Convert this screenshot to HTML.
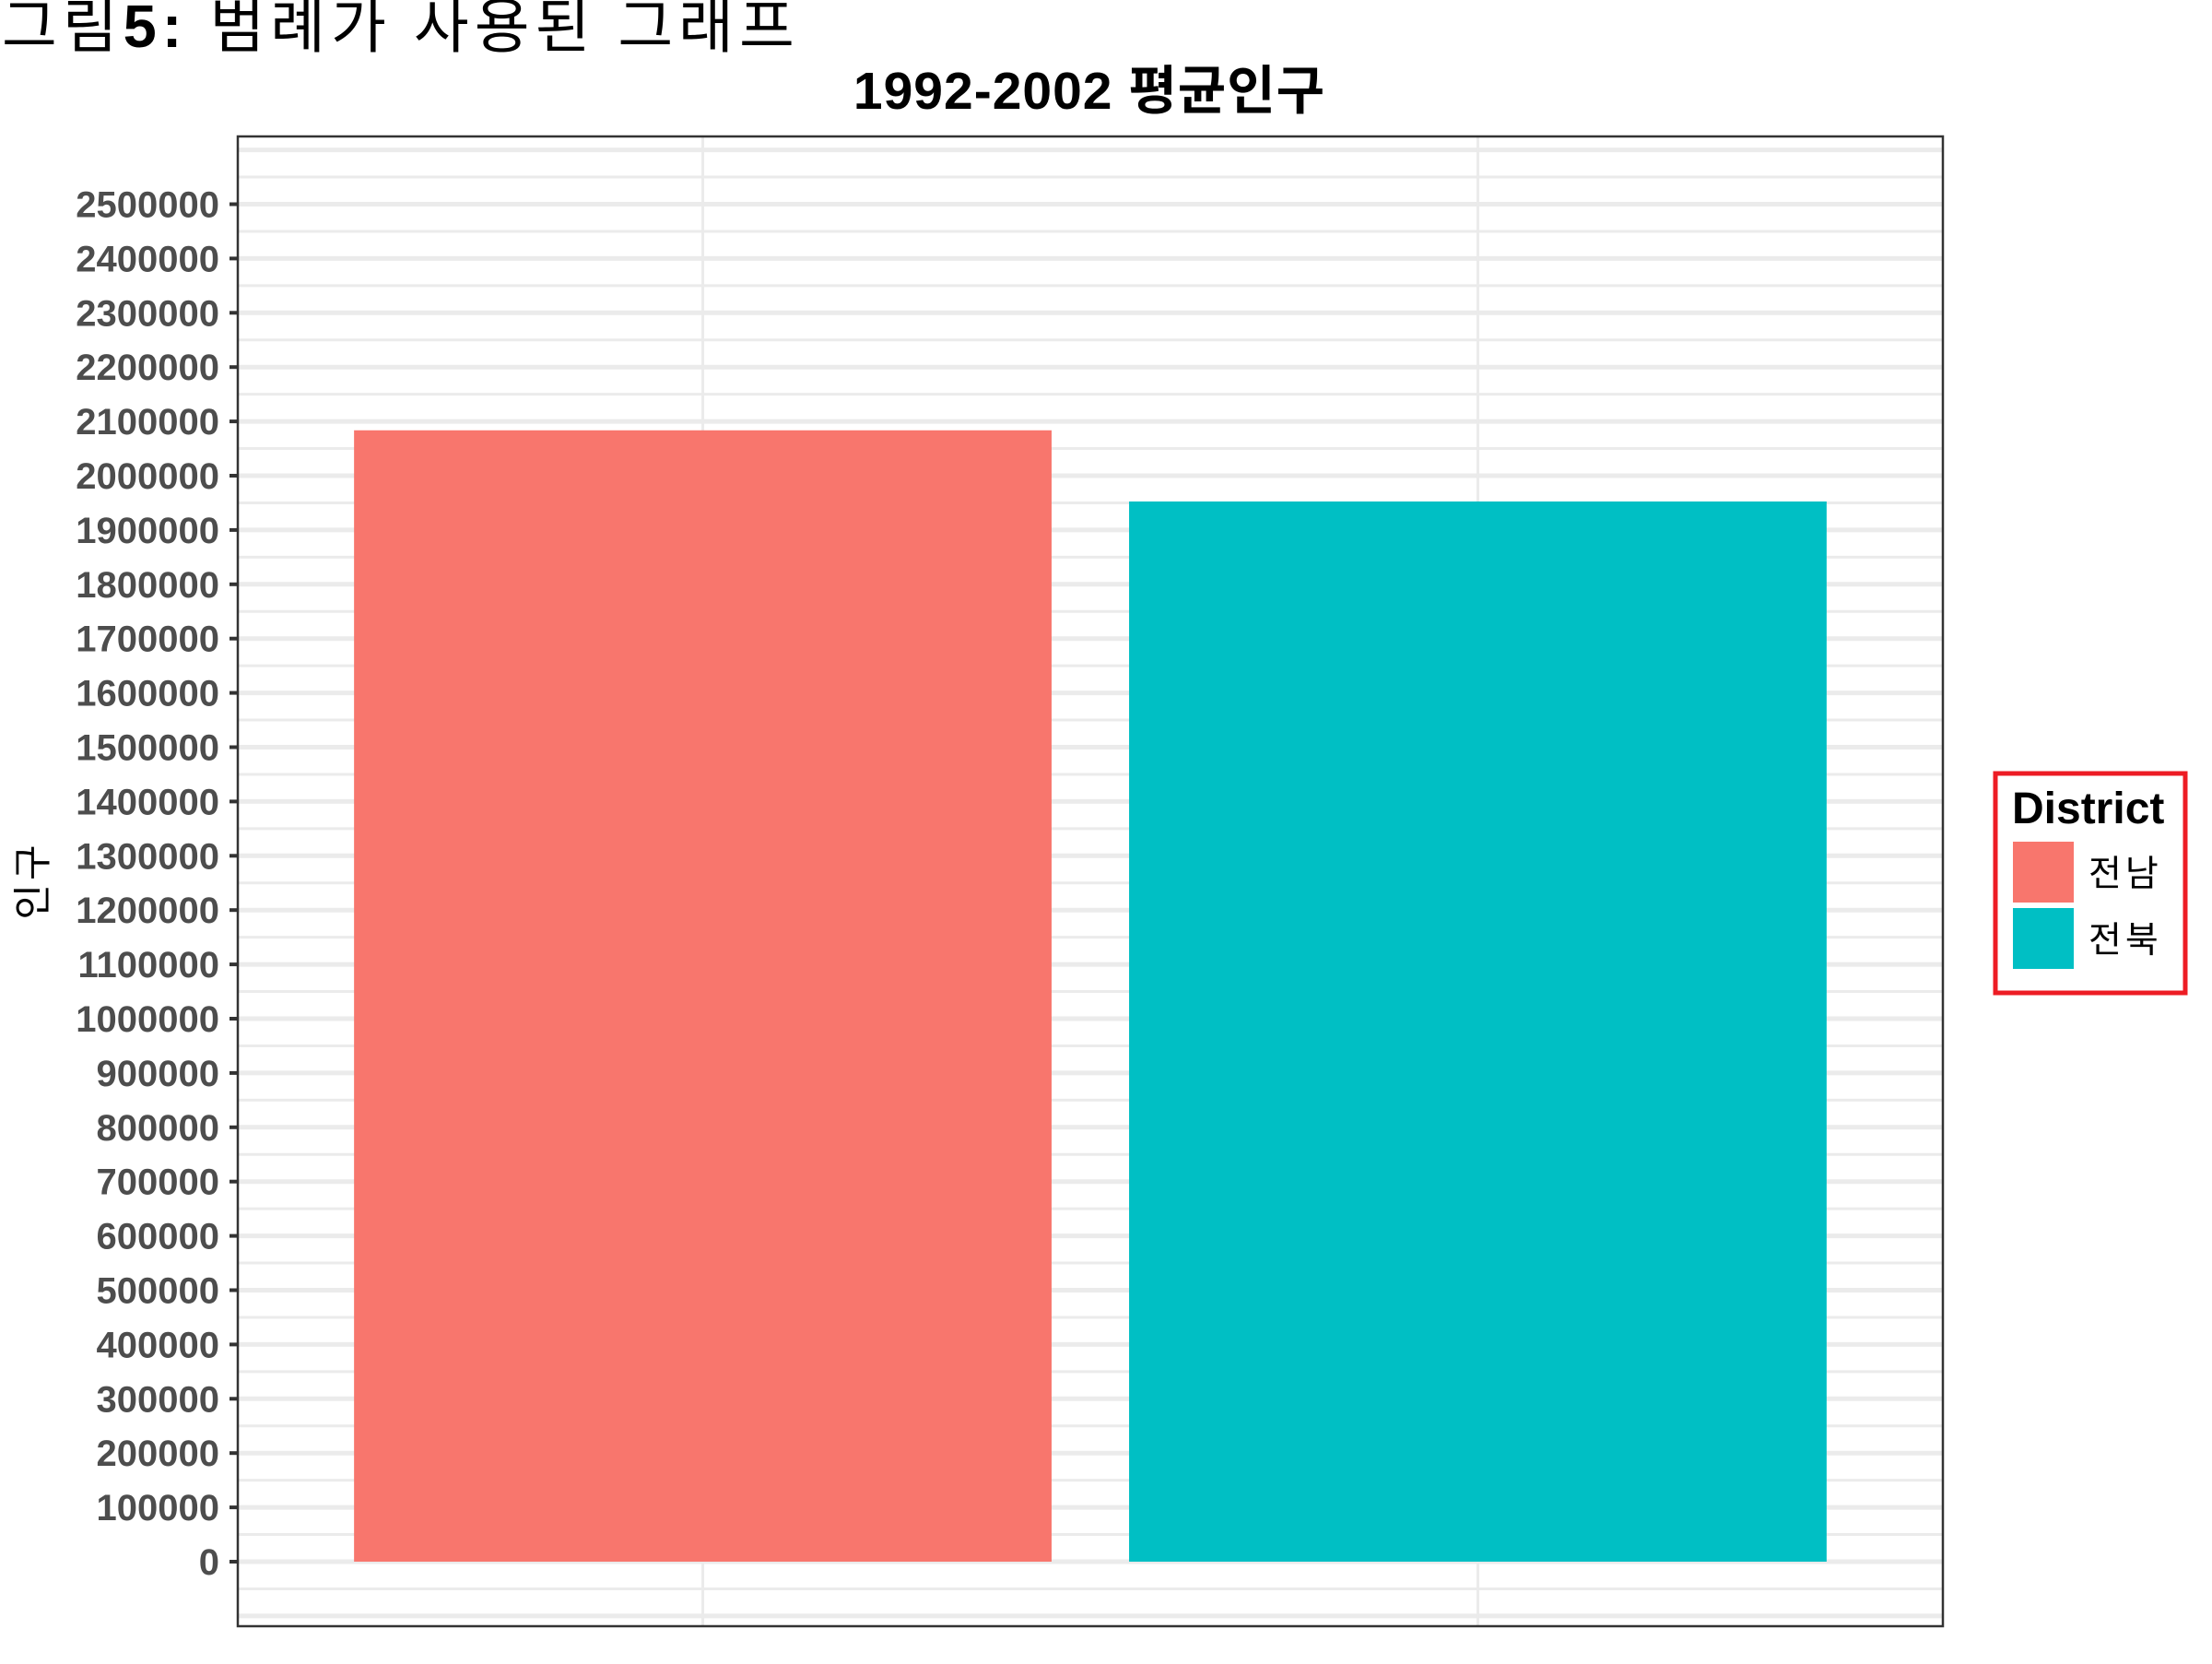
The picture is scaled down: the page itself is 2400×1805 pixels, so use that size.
<!DOCTYPE html>
<html><head><meta charset="utf-8"><style>
html,body{margin:0;padding:0;background:#fff;}
body{width:2400px;height:1800px;overflow:hidden;position:relative;font-family:"Liberation Sans","Noto Sans CJK KR",sans-serif;}
</style></head><body>
<svg id="chart" width="2400" height="1800" xmlns="http://www.w3.org/2000/svg" font-family="Liberation Sans, Noto Sans CJK KR, sans-serif">
<text x="2" y="51" font-size="65" letter-spacing="6" fill="#000">그림<tspan font-weight="bold">5:</tspan> 범례가 사용된 그래프</text>
<text x="1182" y="118" font-size="57" font-weight="bold" letter-spacing="1" text-anchor="middle" fill="#000">1992-2002 평균인구</text>
<g id="grid"></g>
<g id="bars"></g>
<g id="yaxis"></g>
<rect x="258" y="148" width="1850" height="1616" fill="none" stroke="#333" stroke-width="2.5"/>
<text transform="translate(50,955) rotate(-90)" font-size="42" letter-spacing="4" text-anchor="middle" fill="#000">인구</text>
<g>
<rect x="2165" y="839" width="206" height="238" fill="#fff" stroke="#ED1C24" stroke-width="5"/>
<text x="2183" y="893" font-size="48" font-weight="bold" fill="#000">District</text>
<rect x="2184" y="913" width="66" height="66" fill="#F8766D"/>
<text x="2266" y="961" font-size="39" fill="#000" letter-spacing="4">전남</text>
<rect x="2184" y="985" width="66" height="66" fill="#00BFC4"/>
<text x="2266" y="1033" font-size="39" fill="#000" letter-spacing="4">전북</text>
</g>
</svg>
<script>
const categories = ["전남", "전북"];
const values = [2083600, 1952500];
const colors = ["#F8766D", "#00BFC4"];
const yTicks = [0,100000,200000,300000,400000,500000,600000,700000,800000,900000,1000000,1100000,1200000,1300000,1400000,1500000,1600000,1700000,1800000,1900000,2000000,2100000,2200000,2300000,2400000,2500000];

const NS = "http://www.w3.org/2000/svg";
const plotL = 258, plotR = 2108, plotT = 148, plotB = 1764;
const y0 = 1694, pxPer = 58.9 / 100000;
function yScale(v){ return y0 - v * pxPer; }
const step = (plotR - plotL) / (categories.length + 0.2);
function xCenter(i){ return plotL + step * (0.6 + i); }
const barW = step * 0.9;

const grid = document.getElementById('grid');
const bars = document.getElementById('bars');
const yaxis = document.getElementById('yaxis');

function mk(tag, attrs){ const e = document.createElementNS(NS, tag); for (const k in attrs) e.setAttribute(k, attrs[k]); return e; }

for (let v = -100000; v <= 2700000; v += 50000) {
  const y = yScale(v);
  if (y < plotT || y > plotB) continue;
  const major = v % 100000 === 0;
  const ln = mk('line', {x1: plotL, x2: plotR, y1: y, y2: y, stroke: '#ebebeb', 'stroke-width': major ? 5 : 3});
  
  
  grid.appendChild(ln);
}
categories.forEach((c, i) => {
  const x = xCenter(i);
  const ln = mk('line', {x1: x, x2: x, y1: plotT, y2: plotB, stroke: '#ebebeb', 'stroke-width': 3});
  
  
  grid.appendChild(ln);
});

values.forEach((v, i) => {
  const x = xCenter(i) - barW / 2;
  const r = mk('rect', {x: x, y: yScale(v), width: barW, height: yScale(0) - yScale(v), fill: colors[i]});
  
  
  bars.appendChild(r);
});

yTicks.forEach(t => {
  const y = yScale(t);
  const tk = mk('line', {x1: plotL - 9, x2: plotL, y1: y, y2: y, stroke: '#333', 'stroke-width': 4});
  
  
  yaxis.appendChild(tk);
  const tx = mk('text', {x: plotL - 20, y: y + 14, 'font-size': 40, 'font-weight': 'bold', fill: '#4d4d4d', 'text-anchor': 'end'});
  
  
  tx.textContent = String(t);
  yaxis.appendChild(tx);
});
</script>
</body></html>
